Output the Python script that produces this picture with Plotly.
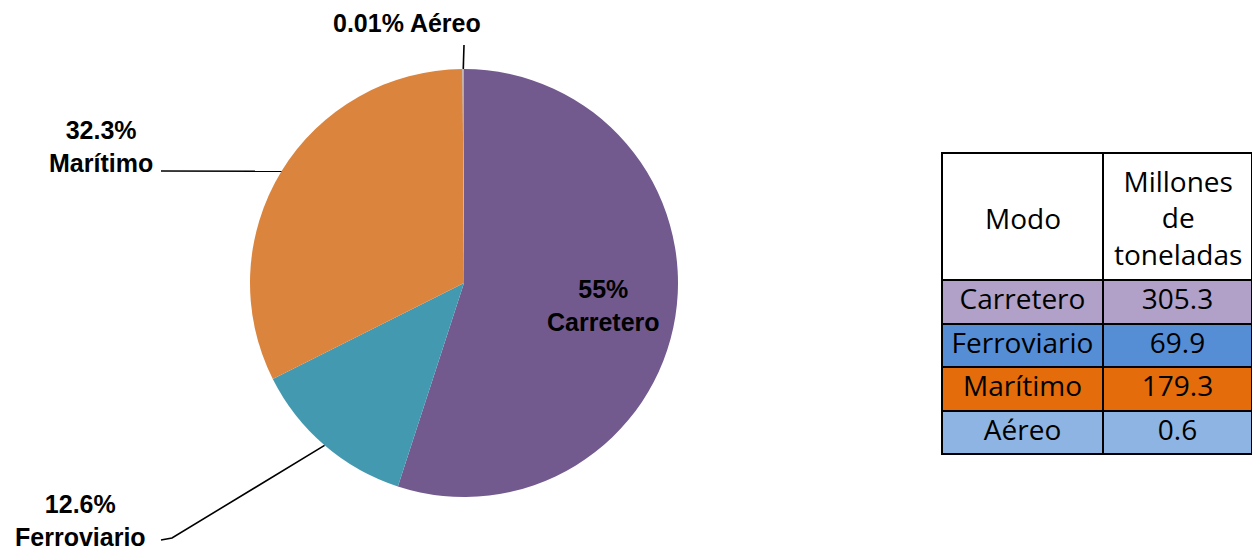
import math
import plotly.graph_objects as go

# Freight moved by transport mode (millions of tonnes)
modes = ["Carretero", "Ferroviario", "Marítimo", "Aéreo"]
tons = [305.3, 69.9, 179.3, 0.6]
share_labels = ["55%", "12.6%", "32.3%", "0.01%"]
pie_colors = ["#725A8F", "#4399B0", "#DB843D", "#8DB4E2"]
row_colors = ["#B1A0C7", "#558ED5", "#E46C0A", "#8DB4E2"]
header_cells = ["Modo", "Millones<br>de<br>toneladas"]
value_labels = [f"{v:.1f}" for v in tons]

W, H = 1252, 552
cx, cy, R = 464, 283, 214  # pie centre / radius in pixels
tbl_left, tbl_top, tbl_split = 942, 153, 1103
head_h, row_h = 127, 43.5

fig = go.Figure()

fig.add_trace(go.Pie(
    labels=modes,
    values=tons,
    sort=False,
    direction="clockwise",
    rotation=0,
    marker=dict(colors=pie_colors, line=dict(color="#FFFFFF", width=0)),
    textinfo="none",
    hoverinfo="label+value+percent",
    showlegend=False,
    domain=dict(x=[(cx - R) / W, (cx + R) / W],
                y=[1 - (cy + R) / H, 1 - (cy - R) / H]),
))

table_font = dict(family="Open Sans", size=28, color="#000000")
fig.add_trace(go.Table(
    columnwidth=[tbl_split - tbl_left, W - tbl_split],
    domain=dict(x=[tbl_left / W, 1.0], y=[0.0, 1 - tbl_top / H]),
    header=dict(
        values=["", ""],
        fill_color="#FFFFFF",
        line=dict(color="#000000", width=2),
        height=head_h,
    ),
    cells=dict(
        values=[modes, value_labels],
        fill_color=[row_colors, row_colors],
        line=dict(color="#000000", width=2),
        align="center",
        height=row_h,
        font=table_font,
    ),
))


def paper(px, py):
    return px / W, 1 - py / H


# Header captions, centred in each header cell
col_centres = [(tbl_left + tbl_split) / 2, (tbl_split + W) / 2]
for text, xc in zip(header_cells, col_centres):
    x, y = paper(xc, tbl_top + head_h / 2 + 1)
    fig.add_annotation(x=x, y=y, xref="paper", yref="paper", showarrow=False,
                       xanchor="center", yanchor="middle", align="center",
                       text=text, font=table_font)


def edge_point(i, r=R):
    """Pixel position on the pie at the angular middle of slice i."""
    total = sum(tons)
    start = sum(tons[:i]) / total
    mid = (start + tons[i] / total / 2) * 2 * math.pi
    return cx + r * math.sin(mid), cy - r * math.cos(mid)


label_font = dict(family="Liberation Sans, Arial, sans-serif", size=25, color="#000000")

# Inside label for the largest slice
px, py = edge_point(0, 0.66 * R)
x, y = paper(px, py)
fig.add_annotation(x=x, y=y, xref="paper", yref="paper", showarrow=False,
                   xanchor="center", yanchor="middle",
                   text=f"<b>{share_labels[0]}<br>{modes[0]}</b>", font=label_font)

# Outside labels with leader lines
outside = {
    1: dict(text_at=(80, 520), start=[(161, 540), (172, 538)]),
    2: dict(text_at=(101, 146), start=[(161, 171)]),
    3: dict(text_at=(407, 23), start=[(464, 45)]),
}
for i, spec in outside.items():
    tx, ty = paper(*spec["text_at"])
    if i == 3:
        text = f"<b>{share_labels[i]} {modes[i]}</b>"
    else:
        text = f"<b>{share_labels[i]}<br>{modes[i]}</b>"
    fig.add_annotation(x=tx, y=ty, xref="paper", yref="paper", showarrow=False,
                       xanchor="center", yanchor="middle",
                       text=text, font=label_font)
    ex, ey = edge_point(i)
    pts = spec["start"] + [(ex, ey)]
    path = "M " + " L ".join(f"{p[0] / W:.5f},{1 - p[1] / H:.5f}" for p in pts)
    fig.add_shape(type="path", path=path, xref="paper", yref="paper",
                  line=dict(color="#000000", width=1.6))

fig.update_layout(
    width=W, height=H,
    margin=dict(l=0, r=0, t=0, b=0),
    paper_bgcolor="#FFFFFF",
    plot_bgcolor="#FFFFFF",
)

fig.write_html("out.html", config={"displayModeBar": False})
